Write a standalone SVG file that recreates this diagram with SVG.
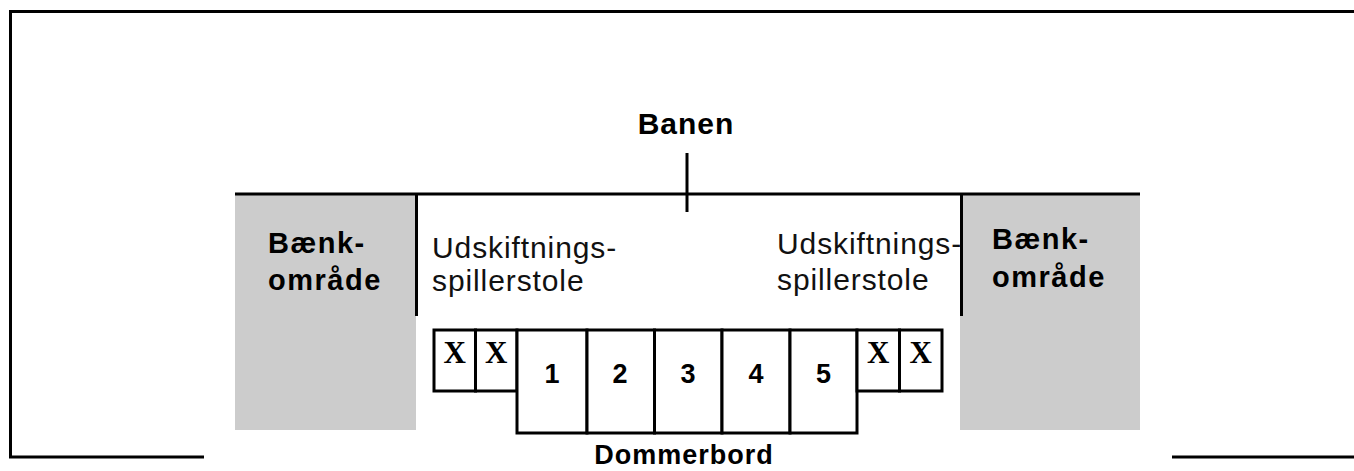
<svg xmlns="http://www.w3.org/2000/svg" width="1354" height="471" viewBox="0 0 1354 471">
<style>
.ln{stroke:#000;stroke-width:3;fill:none}
.box{stroke:#000;stroke-width:3;fill:#fff}
.gray{fill:#cccccc}
.b{font-family:"Liberation Sans",Arial,sans-serif;font-weight:bold;fill:#000}
.r{font-family:"Liberation Sans",Arial,sans-serif;fill:#111}
.x{font-family:"Liberation Serif","Times New Roman",serif;font-weight:bold;fill:#000}
</style>
<rect x="0" y="0" width="1354" height="471" fill="#fff"/>
<g id="frame">
<polyline class="ln" points="1354,11.5 10.5,11.5 10.5,457 204,457" stroke-width="2.5"/>
<line class="ln" x1="1172" y1="457" x2="1354" y2="457" stroke-width="2.5"/>
</g>
<g id="bench-left">
<rect class="gray" x="235" y="194" width="181" height="236"/>
<text class="b" x="268" y="253" font-size="29" letter-spacing="1.5">Bænk-</text>
<text class="b" x="268" y="290" font-size="29" letter-spacing="1.5">område</text>
</g>
<g id="bench-right">
<rect class="gray" x="960" y="194" width="180" height="236"/>
<text class="b" x="992" y="249" font-size="29" letter-spacing="1.5">Bænk-</text>
<text class="b" x="992" y="287" font-size="29" letter-spacing="1.5">område</text>
</g>
<g id="connectors">
<line class="ln" x1="235" y1="194" x2="1140" y2="194"/>
<line class="ln" x1="687" y1="153" x2="687" y2="212"/>
<line class="ln" x1="416.5" y1="194" x2="416.5" y2="316"/>
<line class="ln" x1="961.5" y1="194" x2="961.5" y2="316"/>
</g>
<g id="banen">
<text class="b" x="686" y="134" font-size="30" text-anchor="middle" letter-spacing="1">Banen</text>
</g>
<g id="subs-left">
<text class="r" x="432" y="258" font-size="30" letter-spacing="0.9">Udskiftnings-</text>
<text class="r" x="432" y="291" font-size="30" letter-spacing="0.9">spillerstole</text>
</g>
<g id="subs-right">
<text class="r" x="777" y="254" font-size="30" letter-spacing="0.9">Udskiftnings-</text>
<text class="r" x="777" y="290" font-size="30" letter-spacing="0.9">spillerstole</text>
</g>
<g id="table">
<rect class="box" x="434" y="330" width="41.5" height="61"/>
<rect class="box" x="475.5" y="330" width="41.5" height="61"/>
<rect class="box" x="517" y="330" width="70" height="103"/>
<rect class="box" x="587" y="330" width="67.5" height="103"/>
<rect class="box" x="654.5" y="330" width="67.5" height="103"/>
<rect class="box" x="722" y="330" width="68" height="103"/>
<rect class="box" x="790" y="330" width="67" height="103"/>
<rect class="box" x="857" y="330" width="42.5" height="61"/>
<rect class="box" x="899.5" y="330" width="42.5" height="61"/>
<text class="x" x="454.8" y="363" font-size="31" text-anchor="middle">X</text>
<text class="x" x="496.3" y="363" font-size="31" text-anchor="middle">X</text>
<text class="x" x="878.3" y="363" font-size="31" text-anchor="middle">X</text>
<text class="x" x="920.8" y="363" font-size="31" text-anchor="middle">X</text>
<text class="b" x="552" y="383" font-size="27" text-anchor="middle">1</text>
<text class="b" x="620" y="383" font-size="27" text-anchor="middle">2</text>
<text class="b" x="688" y="383" font-size="27" text-anchor="middle">3</text>
<text class="b" x="756" y="383" font-size="27" text-anchor="middle">4</text>
<text class="b" x="823.5" y="383" font-size="27" text-anchor="middle">5</text>
<text class="b" x="684" y="464" font-size="27" text-anchor="middle" letter-spacing="1">Dommerbord</text>
</g>
</svg>
